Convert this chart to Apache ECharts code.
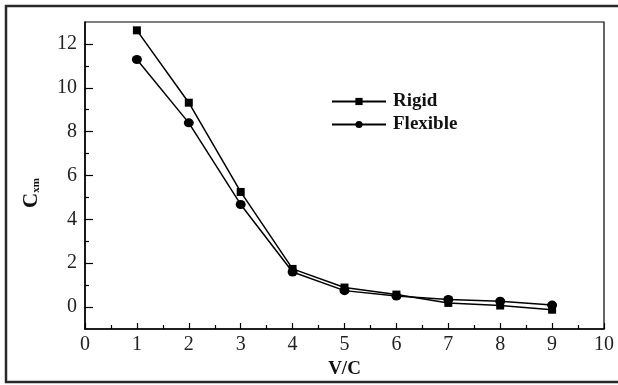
<!DOCTYPE html>
<html>
<head>
<meta charset="utf-8">
<script src="https://cdn.jsdelivr.net/npm/echarts@6/dist/echarts.min.js"></script>
<style>
  html, body { margin: 0; padding: 0; background: #fff; }
  #chart { width: 618px; height: 385px; }
</style>
</head>
<body>
<div id="chart"></div>
<script>
// V/C ratios and force coefficient values for each model
const vcRatio = [1, 2, 3, 4, 5, 6, 7, 8, 9];
const rigidCxm = [12.62, 9.32, 5.25, 1.74, 0.89, 0.57, 0.19, 0.07, -0.12];
const flexibleCxm = [11.29, 8.40, 4.68, 1.60, 0.75, 0.50, 0.35, 0.27, 0.09];

// Tick positions
const yMajorTicks = [0, 2, 4, 6, 8, 10, 12];
const yMinorTicks = [1, 3, 5, 7, 9, 11];

const serif = '"Liberation Serif", "Times New Roman", serif';

const pair = (xs, ys) => xs.map((x, i) => [x, ys[i]]);

const chart = echarts.init(document.getElementById('chart'), null, { renderer: 'canvas' });

chart.setOption({
  backgroundColor: '#fff',
  animation: false,
  grid: {
    left: 85, right: 14, top: 22, bottom: 56,
    show: true, borderColor: '#000', borderWidth: 1.2
  },
  graphic: [
    {
      // outer frame; its right side runs past the canvas edge
      type: 'polyline',
      shape: { points: [[640, 6], [6, 6], [6, 382], [640, 382]] },
      style: { fill: 'none', stroke: '#2a2a2a', lineWidth: 2.5 },
      silent: true
    },
    {
      type: 'text',
      x: 31, y: 193,
      rotation: Math.PI / 2,
      style: {
        text: '{c|C}{s|xm}',
        align: 'center',
        verticalAlign: 'middle',
        rich: {
          c: { fontFamily: serif, fontWeight: 'bold', fontSize: 21, fill: '#111', verticalAlign: 'bottom', lineHeight: 22 },
          s: { fontFamily: serif, fontWeight: 'bold', fontSize: 11, fill: '#111', verticalAlign: 'bottom', lineHeight: 18 }
        }
      }
    }
  ],
  legend: {
    left: 326, top: 87,
    orient: 'vertical',
    itemWidth: 54, itemHeight: 9,
    itemGap: 4,
    textStyle: { fontFamily: serif, fontWeight: 'bold', fontSize: 19, color: '#111', padding: [0, 0, 0, 2] },
    data: ['Rigid', 'Flexible']
  },
  xAxis: {
    type: 'value',
    min: 0, max: 10, interval: 1,
    name: 'V/C',
    nameLocation: 'middle',
    nameGap: 22,
    nameTextStyle: { fontFamily: serif, fontWeight: 'bold', fontSize: 19, color: '#111' },
    axisLine: { show: true, onZero: false, lineStyle: { color: '#000', width: 1.5 } },
    axisTick: { show: true, inside: true, length: 6, lineStyle: { color: '#000', width: 1.2 } },
    minorTick: { show: true, splitNumber: 2, length: 4, lineStyle: { color: '#000', width: 1.2 } },
    axisLabel: { fontFamily: serif, fontSize: 20, color: '#222', margin: 6 },
    splitLine: { show: false }
  },
  yAxis: [
    {
      type: 'value',
      min: -1, max: 13,
      axisLine: { show: true, onZero: false, lineStyle: { color: '#000', width: 1.5 } },
      axisTick: { show: true, inside: true, length: 8, customValues: yMajorTicks, lineStyle: { color: '#000', width: 1.2 } },
      axisLabel: { fontFamily: serif, fontSize: 20, color: '#222', margin: 8, customValues: yMajorTicks },
      splitLine: { show: false }
    },
    {
      type: 'value',
      min: -1, max: 13,
      position: 'left',
      axisLine: { show: false },
      axisTick: { show: true, inside: true, length: 4, customValues: yMinorTicks, lineStyle: { color: '#000', width: 1.2 } },
      axisLabel: { show: false },
      splitLine: { show: false }
    }
  ],
  series: [
    {
      name: 'Rigid',
      type: 'line',
      data: pair(vcRatio, rigidCxm),
      symbol: 'rect',
      symbolSize: 8,
      color: '#000',
      lineStyle: { color: '#000', width: 1.5 },
      itemStyle: { color: '#000' }
    },
    {
      name: 'Flexible',
      type: 'line',
      data: pair(vcRatio, flexibleCxm),
      symbol: 'circle',
      symbolSize: [10, 9],
      color: '#000',
      lineStyle: { color: '#000', width: 1.5 },
      itemStyle: { color: '#000' }
    }
  ]
});
</script>
</body>
</html>
